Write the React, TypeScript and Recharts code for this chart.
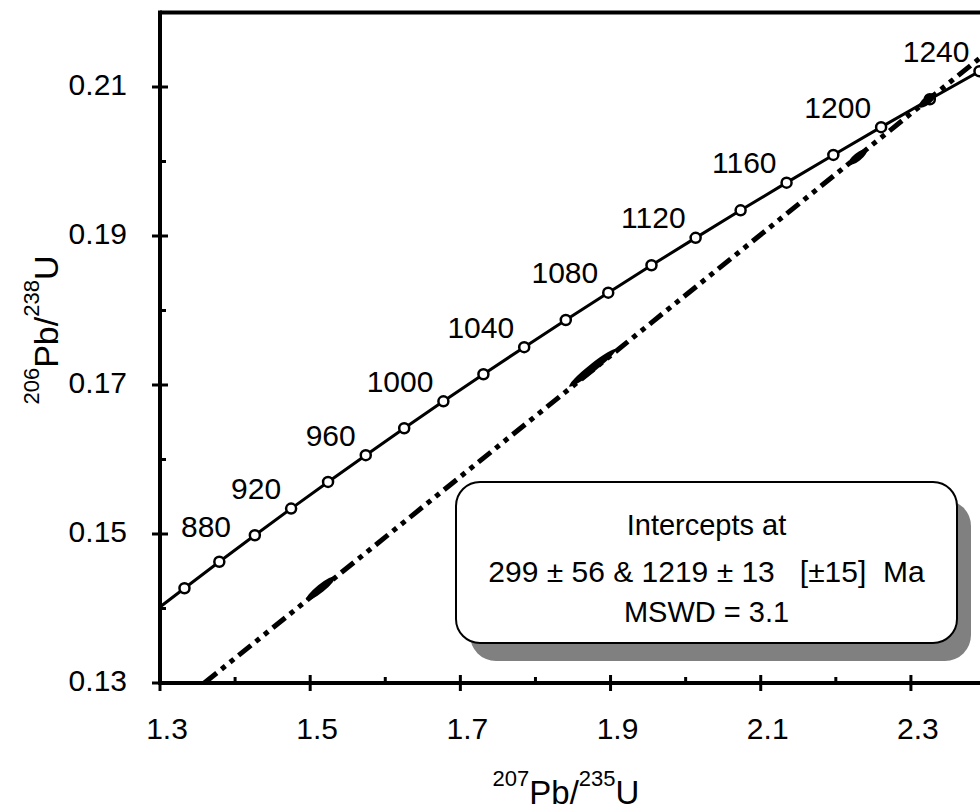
import React from 'react';
import { ComposedChart, Line, Scatter, XAxis, YAxis, ReferenceLine, LabelList } from 'recharts';

// concordia curve points (first point is where the curve enters at the y axis)
const concordiaAge = [null, 860, 880, 900, 920, 940, 960, 980, 1000, 1020, 1040, 1060, 1080, 1100, 1120, 1140, 1160, 1180, 1200, 1220, 1240, 1260];
const concordiaX = [1.3, 1.3326, 1.379, 1.4263, 1.4746, 1.5238, 1.574, 1.6252, 1.6774, 1.7307, 1.785, 1.8404, 1.8969, 1.9545, 2.0133, 2.0732, 2.1344, 2.1967, 2.2603, 2.3252, 2.3913, 2.4588];
const concordiaY = [0.1402, 0.14272, 0.14627, 0.14983, 0.15341, 0.15699, 0.16058, 0.16419, 0.16781, 0.17144, 0.17508, 0.17873, 0.18239, 0.18607, 0.18975, 0.19345, 0.19716, 0.20088, 0.20461, 0.20835, 0.21211, 0.21587];
const labelAges = [880, 920, 960, 1000, 1040, 1080, 1120, 1160, 1200, 1240];

// discordia through 299 and 1219 Ma
const discordiaX = [1.359, 2.392];
const discordiaY = [0.13, 0.2139];

// analyses (error ellipses): centre and half extents
const ellipseX = [1.514, 1.876, 2.229, 2.322];
const ellipseY = [0.1427, 0.1723, 0.2006, 0.2082];
const ellipseErrX = [0.019, 0.031, 0.012, 0.011];
const ellipseErrY = [0.00155, 0.0025, 0.00097, 0.0009];

const xTicks = [1.3, 1.4, 1.5, 1.6, 1.7, 1.8, 1.9, 2.0, 2.1, 2.2, 2.3];
const yTicks = [0.13, 0.14, 0.15, 0.16, 0.17, 0.18, 0.19, 0.2, 0.21];

const FONT = '"Liberation Sans", Arial, sans-serif';
const W = 980;
const H = 812;
const PLOT_LEFT = 160;
const PLOT_TOP = 12.5;
const PLOT_BOTTOM = 683;
const X_DOMAIN: [number, number] = [1.3, 2.392];
const Y_DOMAIN: [number, number] = [0.13, 0.22];
const KX = (W - PLOT_LEFT) / (X_DOMAIN[1] - X_DOMAIN[0]);
const KY = (PLOT_BOTTOM - PLOT_TOP) / (Y_DOMAIN[1] - Y_DOMAIN[0]);

const concordia = concordiaX.map((x, i) => ({ x, y: concordiaY[i], age: concordiaAge[i] }));
const discordia = discordiaX.map((x, i) => ({ x, y: discordiaY[i] }));
const ellipses = ellipseX.map((x, i) => ({ x, y: ellipseY[i], ex: ellipseErrX[i], ey: ellipseErrY[i] }));

const isMajor = (v: number, mult: number) => Math.round(v * mult) % 2 === 1;

const YTick = (p: any) => {
  const { x, y, payload } = p;
  const major = isMajor(payload.value, 100);
  return (
    <g>
      <line x1={major ? x - 8 : x} x2={x + (major ? 8 : 6)} y1={y} y2={y} stroke="#000" strokeWidth={3} />
      {major && (
        <text x={x - 33} y={y + 8} textAnchor="end" fontSize={30} fontFamily={FONT} fill="#000">
          {payload.value.toFixed(2)}
        </text>
      )}
    </g>
  );
};

const XTick = (p: any) => {
  const { x, y, payload } = p;
  const major = isMajor(payload.value, 10);
  return (
    <g>
      <line x1={x} x2={x} y1={major ? y + 8 : y} y2={y - (major ? 8 : 6)} stroke="#000" strokeWidth={3} />
      {major && (
        <text x={x + 7} y={y + 56} textAnchor="middle" fontSize={30} fontFamily={FONT} fill="#000">
          {payload.value.toFixed(1)}
        </text>
      )}
    </g>
  );
};

const renderDot = (p: any) => {
  if (p.payload.age == null) return <g key={`d${p.index}`} />;
  return <circle key={`d${p.index}`} cx={p.cx} cy={p.cy} r={5} fill="#fff" stroke="#000" strokeWidth={2.5} />;
};

const renderAgeLabel = (p: any) => {
  const { x, y, value } = p;
  if (!labelAges.includes(value)) return null;
  const txt = String(value);
  const w = txt.length * 0.556 * 30;
  // keep the label off the y axis
  if (x - 10 - w < PLOT_LEFT + 10) {
    return (
      <text x={PLOT_LEFT + 21} y={y - 25} textAnchor="start" fontSize={30} fontFamily={FONT} fill="#000">
        {txt}
      </text>
    );
  }
  return (
    <text x={x - 10} y={y - 9.5} textAnchor="end" fontSize={30} fontFamily={FONT} fill="#000">
      {txt}
    </text>
  );
};

const renderEllipse = (p: any) => {
  const { cx, cy, payload } = p;
  const dx = payload.ex * KX;
  const dy = payload.ey * KY;
  const rx = Math.hypot(dx, dy);
  const ang = (-Math.atan2(dy, dx) * 180) / Math.PI;
  return <ellipse cx={cx} cy={cy} rx={rx} ry={4} transform={`rotate(${ang} ${cx} ${cy})`} fill="#000" />;
};

export default function App() {
  return (
    <div style={{ position: 'absolute', left: 0, top: 0, width: W, height: H, background: '#fff' }}>
      <ComposedChart width={W} height={H} margin={{ top: PLOT_TOP, right: 0, bottom: 0, left: 0 }}>
        <XAxis
          type="number"
          dataKey="x"
          domain={X_DOMAIN}
          ticks={xTicks}
          interval={0}
          allowDataOverflow
          height={H - PLOT_BOTTOM}
          tickSize={0}
          tickMargin={0}
          tickLine={false}
          axisLine={{ stroke: '#000', strokeWidth: 4, strokeLinecap: 'square' }}
          tick={<XTick />}
        />
        <YAxis
          type="number"
          dataKey="y"
          domain={Y_DOMAIN}
          ticks={yTicks}
          interval={0}
          allowDataOverflow
          width={PLOT_LEFT}
          tickSize={0}
          tickMargin={0}
          tickLine={false}
          axisLine={{ stroke: '#000', strokeWidth: 4, strokeLinecap: 'square' }}
          tick={<YTick />}
        />
        <ReferenceLine y={0.22} stroke="#000" strokeWidth={4} ifOverflow="extendDomain" />
        <Line
          data={discordia}
          dataKey="y"
          type="linear"
          stroke="#000"
          strokeWidth={5}
          strokeDasharray="16 6 5 6 5 6"
          dot={false}
          isAnimationActive={false}
        />
        <Line
          data={concordia}
          dataKey="y"
          type="linear"
          stroke="#000"
          strokeWidth={3}
          dot={renderDot}
          isAnimationActive={false}
        >
          <LabelList dataKey="age" content={renderAgeLabel} />
        </Line>
        <Scatter data={ellipses} dataKey="y" shape={renderEllipse} isAnimationActive={false} />
      </ComposedChart>
      <svg width={W} height={H} style={{ position: 'absolute', left: 0, top: 0, pointerEvents: 'none' }} fontFamily={FONT}>
        <rect x={470} y={500} width={501} height={161} rx={26} fill="#808080" />
        <rect x={456} y={482} width={501} height={161} rx={24} fill="#fff" stroke="#000" strokeWidth={2} />
        <text x={706.5} y={535} textAnchor="middle" fontSize={29} fill="#000">Intercepts at</text>
        <text x={706.5} y={582} textAnchor="middle" fontSize={30} fill="#000" xmlSpace="preserve">
          {'299 ± 56 & 1219 ± 13   [±15]  Ma'}
        </text>
        <text x={706.5} y={622} textAnchor="middle" fontSize={29} fill="#000">MSWD = 3.1</text>
        <text x={566} y={804} textAnchor="middle" fontSize={33} fill="#000">
          <tspan fontSize={22} dy={-18}>207</tspan>
          <tspan dy={18}>Pb/</tspan>
          <tspan fontSize={22} dy={-18}>235</tspan>
          <tspan dy={18}>U</tspan>
        </text>
        <text x={58} y={330} transform="rotate(-90 58 330)" textAnchor="middle" fontSize={34} fill="#000">
          <tspan fontSize={22} dy={-19}>206</tspan>
          <tspan dy={19}>Pb/</tspan>
          <tspan fontSize={22} dy={-19}>238</tspan>
          <tspan dy={19}>U</tspan>
        </text>
      </svg>
    </div>
  );
}
